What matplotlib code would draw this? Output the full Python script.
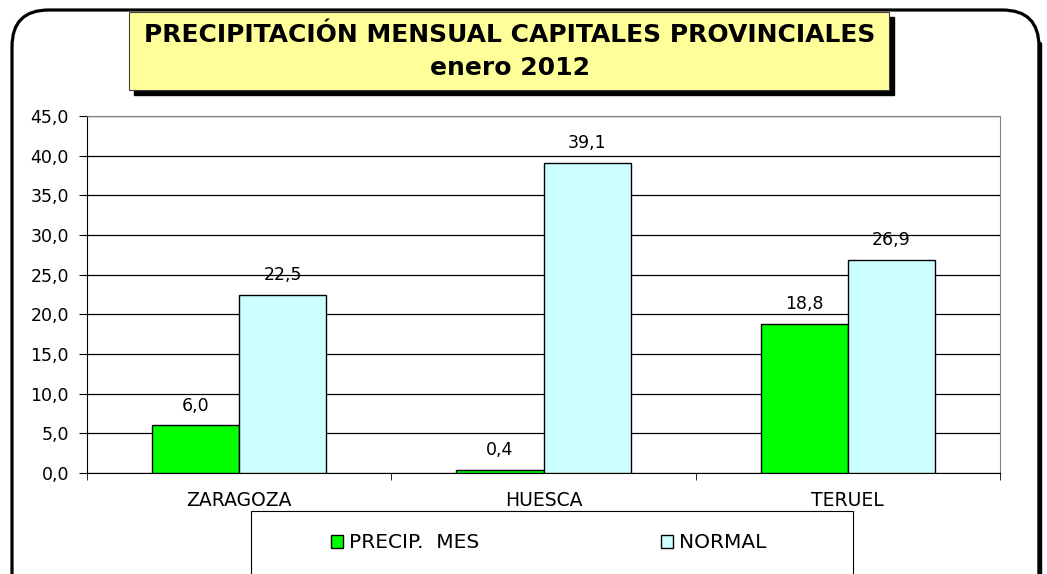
import matplotlib
matplotlib.use("Agg")
import matplotlib.pyplot as plt
import numpy as np
from matplotlib.patches import Rectangle, FancyBboxPatch
from matplotlib.lines import Line2D

plt.rcParams['font.family'] = ['DejaVu Sans']

categories = ["ZARAGOZA", "HUESCA", "TERUEL"]
precip_mes = [6.0, 0.4, 18.8]
normal = [22.5, 39.1, 26.9]
series_names = ["PRECIP.  MES", "NORMAL"]
title_lines = ["PRECIPITACIÓN MENSUAL CAPITALES PROVINCIALES", "enero 2012"]
yticks = np.arange(0, 45.1, 5)

W, H = 1047, 574
fig = plt.figure(figsize=(W / 100, H / 100), dpi=100)

def fx(px):
    return px / W

def fy(py):
    return 1 - py / H

# outer rounded frame
frame = FancyBboxPatch((fx(12), fy(720)), fx(1039) - fx(12), fy(10) - fy(720),
                       boxstyle="round,pad=0,rounding_size=0.035",
                       transform=fig.transFigure, fill=False, edgecolor='black',
                       linewidth=2.3, zorder=0, mutation_aspect=W / H)
fig.patches.append(frame)
# thicker right side (shadow)
fig.lines.append(Line2D([fx(1040), fx(1040)], [fy(44), fy(600)], transform=fig.transFigure,
                        color='black', linewidth=3.2, zorder=0, solid_capstyle='round'))

ax = fig.add_axes([fx(87), fy(473), fx(1000) - fx(87), fy(116) - fy(473)])
x = np.arange(len(categories))
bw = 0.286
b1 = ax.bar(x - bw / 2, precip_mes, bw, color='#00FF00', edgecolor='black', linewidth=1, zorder=3)
b2 = ax.bar(x + bw / 2, normal, bw, color='#CCFFFF', edgecolor='black', linewidth=1, zorder=3)
for bars, vals in ((b1, precip_mes), (b2, normal)):
    for r, v in zip(bars, vals):
        ax.annotate(f"{v:.1f}".replace('.', ','), (r.get_x() + r.get_width() / 2, v),
                    xytext=(0, 7.5), textcoords='offset points', ha='center', va='bottom',
                    fontsize=12.5, color='black')
ax.set_xlim(-0.5, len(categories) - 0.5)
ax.set_ylim(0, 45)
ax.set_yticks(yticks)
ax.set_yticklabels([f"{v:.1f}".replace('.', ',') for v in yticks], fontsize=12.5)
ax.yaxis.grid(True, color='black', linewidth=0.9, zorder=0)
ax.set_axisbelow(True)
ax.set_xticks(x)
ax.set_xticklabels(categories, fontsize=13.5)
ax.tick_params(axis='x', length=0, pad=13)
ax.set_xticks(np.arange(-0.5, len(categories), 1), minor=True)
ax.tick_params(axis='x', which='minor', length=5, color='black')
ax.tick_params(axis='y', length=6, color='black', pad=7)
for s in ('top', 'right'):
    ax.spines[s].set_color('#808080')
for s in ('left', 'bottom'):
    ax.spines[s].set_color('black')

# title box with shadow
tx0, tx1, ty0, ty1 = 129, 889, 12, 90
fig.patches.append(Rectangle((fx(tx0 + 5), fy(ty1 + 5)), fx(tx1) - fx(tx0), fy(ty0) - fy(ty1),
                             transform=fig.transFigure, facecolor='black', edgecolor='black', zorder=5))
fig.patches.append(Rectangle((fx(tx0), fy(ty1)), fx(tx1) - fx(tx0), fy(ty0) - fy(ty1),
                             transform=fig.transFigure, facecolor='#FFFF99', edgecolor='#404040',
                             linewidth=0.8, zorder=6))
fig.text(fx(510), fy(35), title_lines[0], ha='center', va='center', fontsize=18,
         fontweight='bold', zorder=7)
fig.text(fx(510), fy(68), title_lines[1], ha='center', va='center', fontsize=18,
         fontweight='bold', zorder=7)

# legend box
fig.patches.append(Rectangle((fx(251), fy(620)), fx(853) - fx(251), fy(511) - fy(620),
                             transform=fig.transFigure, facecolor='white', edgecolor='black',
                             linewidth=0.8, zorder=1))
leg = fig.legend([b1, b2], series_names, ncol=2, loc='center left',
                 bbox_to_anchor=(fx(331), fy(543)), frameon=False, fontsize=14.5,
                 handlelength=0.6, handleheight=0.6, handletextpad=0.3,
                 columnspacing=9.0, borderpad=0, borderaxespad=0)

fig.savefig("out.png", dpi=100)
